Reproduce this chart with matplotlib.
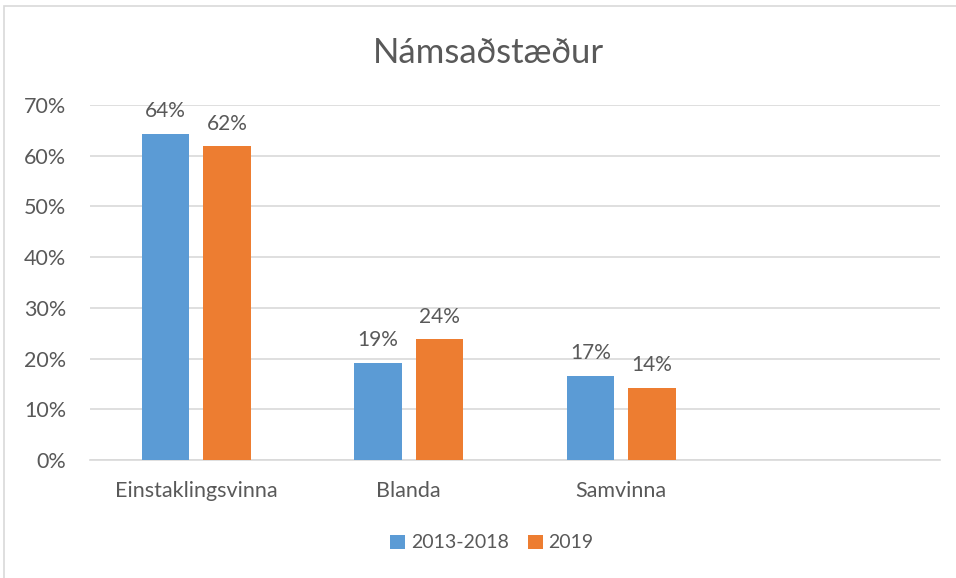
import numpy as np
import matplotlib.pyplot as plt
from matplotlib.patches import Rectangle, Patch
from matplotlib.ticker import PercentFormatter

# Gögn lesin af myndinni
categories = ['Einstaklingsvinna', 'Blanda', 'Samvinna', '']
series_names = ['2013-2018', '2019']
vals_2013_2018 = [0.643, 0.192, 0.166]
vals_2019 = [0.619, 0.238, 0.142]
labels_2013_2018 = ['64%', '19%', '17%']
labels_2019 = ['62%', '24%', '14%']

blue = '#5B9BD5'
orange = '#ED7D31'
text_col = '#595959'
grid_col = '#D9D9D9'

plt.rcParams['font.family'] = ['Lato', 'DejaVu Sans']

fig = plt.figure(figsize=(9.56, 5.78), dpi=100)
W, H = 956, 578
ax = fig.add_axes([90 / W, 1 - 460 / H, 850 / W, 355 / H])

# ramminn utan um myndina
fig.patches.append(Rectangle((4 / W, -0.1), 1.2, (H - 6) / H + 0.1,
                             transform=fig.transFigure, fill=False,
                             edgecolor='#D9D9D9', linewidth=1.2))

x = np.arange(3)
bw = 0.2235
off = 0.1445
b1 = ax.bar(x - off, vals_2013_2018, bw, color=blue, label=series_names[0], zorder=3)
b2 = ax.bar(x + off, vals_2019, bw, color=orange, label=series_names[1], zorder=3)

for bars, labs in [(b1, labels_2013_2018), (b2, labels_2019)]:
    for rect, lab in zip(bars, labs):
        ax.annotate(lab, (rect.get_x() + rect.get_width() / 2, rect.get_height()),
                    xytext=(0, 9), textcoords='offset points', ha='center', va='bottom',
                    fontsize=15, color=text_col)

ax.set_xlim(-0.5, 3.5)
ax.set_ylim(0, 0.7)
ax.set_yticks(np.arange(0, 0.71, 0.1))
ax.yaxis.set_major_formatter(PercentFormatter(1.0, decimals=0))
ax.set_xticks(np.arange(4))
ax.set_xticklabels(categories)
ax.tick_params(axis='both', length=0, labelsize=15.5, labelcolor=text_col)
ax.tick_params(axis='x', pad=15)
ax.tick_params(axis='y', pad=17)

ax.grid(axis='y', color=grid_col, linewidth=1.2, zorder=0)
for s in ['top', 'right', 'left']:
    ax.spines[s].set_visible(False)
ax.spines['bottom'].set_color(grid_col)
ax.spines['bottom'].set_linewidth(1.2)

fig.text(488 / W, 1 - 53 / H, 'Námsaðstæður', ha='center', va='center',
         fontsize=25, color=text_col)

handles = [Patch(facecolor=blue, label=series_names[0]),
           Patch(facecolor=orange, label=series_names[1])]
fig.legend(handles=handles, loc='center', bbox_to_anchor=(492 / W, 1 - 543 / H),
           ncol=2, frameon=False, fontsize=14, labelcolor=text_col,
           handlelength=0.75, handleheight=0.75, handletextpad=0.3, columnspacing=1.0)

fig.savefig('out.png', dpi=100, facecolor='white')
